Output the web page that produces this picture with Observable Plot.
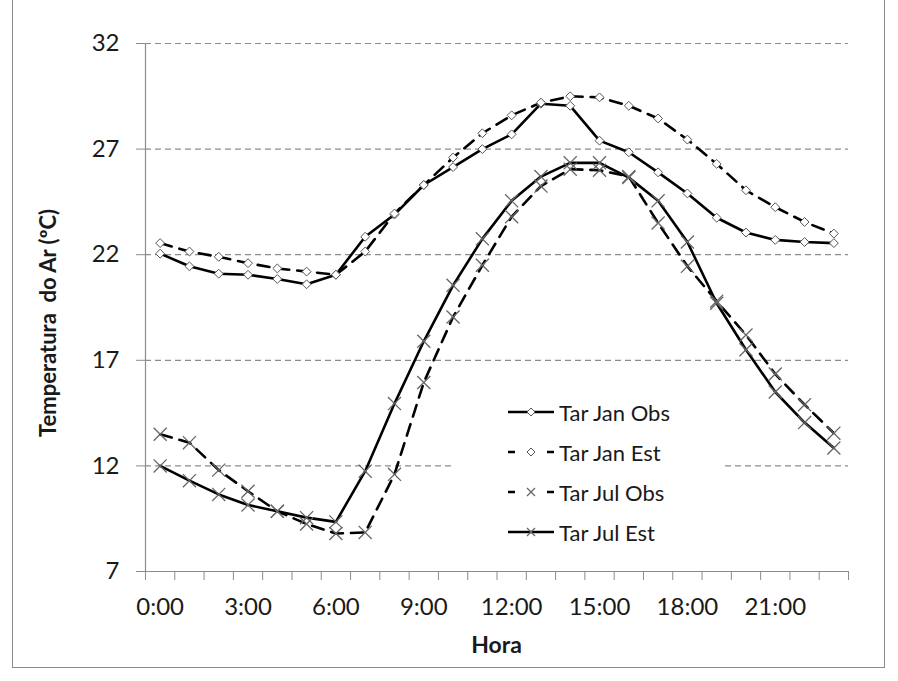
<!DOCTYPE html>
<html>
<head>
<meta charset="utf-8">
<script src="https://cdn.jsdelivr.net/npm/d3@7"></script>
<script src="https://cdn.jsdelivr.net/npm/@observablehq/plot@0.6"></script>
<style>
  html, body { margin: 0; padding: 0; background: #fff; }
  #wrap { position: relative; width: 898px; height: 681px; overflow: hidden; font-family: Lato, "Open Sans", sans-serif; color: #1a1a1a; }
  #frame { position: absolute; left: 12px; top: -2px; width: 873px; height: 670px; border: 1px solid #8c8c8c; box-sizing: border-box; pointer-events: none; }
  #legend { position: absolute; left: 455px; top: 390px; width: 267px; height: 160px; background: #fff; }
  .row { position: absolute; left: 53px; height: 30px; display: flex; align-items: center; font-size: 22px; }
  .row svg { margin-right: 5px; }
  #xtitle { position: absolute; font-weight: bold; font-size: 23px; left: 0; width: 993px; text-align: center; top: 630px; }
  #ytitle { position: absolute; font-weight: bold; font-size: 22px; left: 47px; top: 323px; transform: translate(-50%, -50%) rotate(-90deg); white-space: pre; }
</style>
</head>
<body>
<div id="wrap">
  <div id="chart"></div>
  <div id="legend"></div>
  <div id="xtitle">Hora</div>
  <div id="ytitle">Temperatura  do Ar (ºC)</div>
  <div id="frame"></div>
</div>
<script>
const hours = [0,1,2,3,4,5,6,7,8,9,10,11,12,13,14,15,16,17,18,19,20,21,22,23];
const xTickLabels = [0,3,6,9,12,15,18,21];
const yTicks = [7,12,17,22,27,32];
const seriesNames = ["Tar Jan Obs","Tar Jan Est","Tar Jul Obs","Tar Jul Est"];
const janObs = [22.05,21.45,21.1,21.05,20.85,20.6,21.05,22.85,23.9,25.3,26.15,27.0,27.7,29.15,29.05,27.4,26.85,25.9,24.9,23.75,23.05,22.7,22.6,22.55];
const janEst = [22.55,22.15,21.9,21.6,21.35,21.2,21.05,22.15,23.95,25.3,26.6,27.75,28.6,29.2,29.5,29.45,29.05,28.45,27.45,26.3,25.05,24.25,23.55,23.0];
const julObs = [13.5,13.1,11.8,10.8,9.85,9.25,8.8,8.85,11.6,15.95,19.05,21.5,23.8,25.25,26.05,26.0,25.7,23.5,21.45,19.8,18.2,16.35,14.9,13.55];
const julEst = [12.0,11.3,10.65,10.15,9.85,9.55,9.35,11.75,14.95,17.9,20.55,22.75,24.55,25.7,26.35,26.35,25.65,24.55,22.6,19.7,17.5,15.5,14.05,12.85];

const styles = {
  "Tar Jan Obs": {vals: janObs, dash: null, symbol: "diamond2"},
  "Tar Jan Est": {vals: janEst, dash: "12,8", symbol: "diamond2"},
  "Tar Jul Obs": {vals: julObs, dash: "12,8", symbol: "times"},
  "Tar Jul Est": {vals: julEst, dash: null, symbol: "times"}
};

const rowsOf = name => hours.map((h, i) => ({h, v: styles[name].vals[i], s: name}));
const boundaries = hours.map(h => h - 0.5).concat([23.5]);
const axisGray = "#8c8c8c";

const marks = [
  Plot.gridY([12,17,22,27,32], {stroke: "#8c8c8c", strokeOpacity: 1, strokeWidth: 1.2, strokeDasharray: "6,4"}),
  Plot.ruleY([7], {stroke: axisGray, strokeWidth: 1.2}),
  Plot.ruleX([-0.5], {stroke: axisGray, strokeWidth: 1.2}),
  Plot.axisY({ticks: yTicks, tickSize: 9, tickPadding: 17, stroke: axisGray, fontSize: 24, fill: "#1a1a1a", label: null}),
  Plot.axisX({ticks: boundaries, tickSize: 9, tickFormat: () => "", stroke: axisGray, label: null}),
  Plot.axisX({ticks: xTickLabels, tickSize: 0, tickPadding: 26, tickFormat: h => h + ":00", fontSize: 24, fill: "#1a1a1a", label: null})
];
for (const name of seriesNames) {
  const st = styles[name];
  marks.push(Plot.line(rowsOf(name), {x: "h", y: "v", stroke: "#000", strokeWidth: 2.6, strokeDasharray: st.dash}));
}
for (const name of seriesNames) {
  const st = styles[name];
  if (st.symbol === "diamond2") {
    marks.push(Plot.dot(rowsOf(name), {x: "h", y: "v", symbol: "diamond2", r: 4, fill: "#fff", stroke: "#555", strokeWidth: 1}));
  } else {
    marks.push(Plot.dot(rowsOf(name), {x: "h", y: "v", symbol: "times", r: 6, stroke: "#666", strokeWidth: 1.3}));
  }
}

const chart = Plot.plot({
  width: 898, height: 681,
  marginLeft: 145, marginRight: 50, marginTop: 43, marginBottom: 110,
  x: {domain: [-0.5, 23.5], axis: null},
  y: {domain: [7, 32], axis: null},
  style: {fontFamily: "Lato, 'Open Sans', sans-serif", background: "transparent", overflow: "visible"},
  marks
});
document.getElementById("chart").appendChild(chart);

// legend
const legend = document.getElementById("legend");
const ns = "http://www.w3.org/2000/svg";
seriesNames.forEach((name, i) => {
  const st = styles[name];
  const row = document.createElement("div");
  row.className = "row";
  row.style.top = (21 + i * 40 - 15 + 1) + "px";
  const svg = document.createElementNS(ns, "svg");
  svg.setAttribute("width", 46); svg.setAttribute("height", 16);
  const line = document.createElementNS(ns, "line");
  line.setAttribute("x1", 0); line.setAttribute("x2", 46); line.setAttribute("y1", 8); line.setAttribute("y2", 8);
  line.setAttribute("stroke", "#000"); line.setAttribute("stroke-width", 2.6);
  if (st.dash) line.setAttribute("stroke-dasharray", "7,32");
  svg.appendChild(line);
  const p = document.createElementNS(ns, "path");
  if (st.symbol === "diamond2") {
    p.setAttribute("d", "M23,4 L27,8 L23,12 L19,8 Z");
    p.setAttribute("fill", "#fff"); p.setAttribute("stroke", "#555"); p.setAttribute("stroke-width", 1);
  } else {
    p.setAttribute("d", "M19,4 L27,12 M27,4 L19,12");
    p.setAttribute("stroke", "#666"); p.setAttribute("stroke-width", 1.3);
  }
  svg.appendChild(p);
  row.appendChild(svg);
  const t = document.createElement("span");
  t.textContent = name;
  row.appendChild(t);
  legend.appendChild(row);
});
</script>
</body>
</html>
